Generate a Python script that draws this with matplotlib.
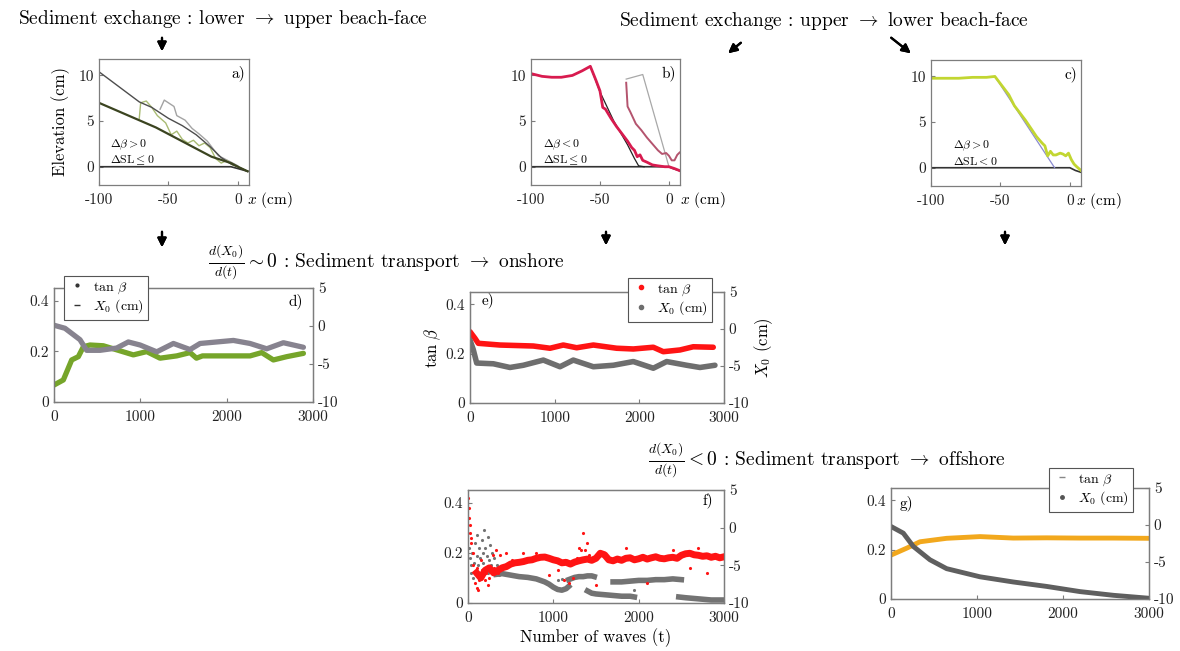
import matplotlib.pyplot as plt
from matplotlib.lines import Line2D

plt.rcParams['font.family'] = ['cmr10', 'DejaVu Serif']
plt.rcParams['mathtext.fontset'] = 'cm'
plt.rcParams['axes.unicode_minus'] = False
plt.rcParams['axes.formatter.use_mathtext'] = True

W, H = 1180, 651

# ---- beach profiles (x in cm, elevation in cm) ----
a_zero_x = [-100, -5, 0, 7]
a_zero_y = [0.0, 0.0, -0.2, -0.5]
a_init_x = [-100, -71, -62, -50, -40, -30, -20, -12, -5, 0, 7]
a_init_y = [10.4, 7.1, 6.5, 5.3, 4.5, 3.5, 2.2, 1.0, 0.3, 0.0, -0.5]
a_final_x = [-100, -59, -19, -5, 0, 7]
a_final_y = [7.0, 4.3, 1.1, 0.4, 0.0, -0.5]
a_mid1_x = [-71, -70, -66, -62, -58, -52, -48, -44, -40, -36, -32, -28, -24, -20, -16, -12, -8, -4, 0]
a_mid1_y = [5.3, 7.0, 7.2, 6.5, 5.6, 4.8, 3.5, 3.9, 3.0, 2.6, 2.9, 2.3, 2.6, 2.1, 0.9, 0.4, 0.7, 0.2, 0.0]
a_mid2_x = [-56, -53, -46, -44, -38, -33, -28, -22, -18, -14, -10, -5, 0]
a_mid2_y = [6.3, 7.3, 6.6, 5.6, 5.1, 4.2, 3.6, 2.8, 2.0, 1.2, 0.9, 0.5, 0.1]

b_zero_x = [-100, 0, 3, 9]
b_zero_y = [0.0, 0.0, -0.2, -0.5]
b_init_x = [-57, -50, -40, -30, -25, -22, -18]
b_init_y = [11.0, 8.2, 5.0, 2.4, 0.9, 0.1, 0.0]
b_red_x = [-100, -92, -85, -78, -70, -63, -57, -53, -50, -48, -46, -42, -38, -34, -30, -27,
           -25, -23, -21, -19, -16, -12, -8, -3, 0, 4, 9]
b_red_y = [10.2, 9.9, 9.8, 9.8, 10.0, 10.5, 11.0, 9.5, 8.3, 6.5, 6.3, 5.3, 4.4, 3.6, 2.8, 2.1,
           1.8, 1.1, 1.3, 0.7, 0.5, 0.2, 0.1, 0.0, 0.0, -0.2, -0.5]
b_mid_x = [-31, -30, -28, -24, -20, -16, -12, -8, -5, -2, 0, 2, 4, 6, 8, 9.5]
b_mid_y = [9.2, 6.6, 6.0, 4.7, 4.0, 3.2, 2.5, 1.8, 1.4, 1.5, 1.2, 0.7, 0.7, 1.3, 1.6, 1.5]
b_gray_x = [-31, -19, 0]
b_gray_y = [9.6, 10.1, 0.0]

c_zero_x = [-100, 0, 4, 8]
c_zero_y = [0.0, 0.0, -0.3, -0.5]
c_init_x = [-54, -11]
c_init_y = [10.0, 0.0]
c_green_x = [-100, -90, -80, -70, -60, -54, -50, -44, -40, -36, -32, -28, -24, -20, -18, -16,
             -14, -12, -10, -7, -5, -3, -1, 1, 3, 5, 8]
c_green_y = [9.8, 9.8, 9.8, 9.9, 9.9, 10.0, 9.2, 8.0, 6.8, 6.0, 5.2, 4.3, 3.4, 2.7, 2.4, 1.3,
             1.8, 1.4, 1.4, 1.6, 1.5, 1.3, 1.6, 0.9, 0.4, 0.1, -0.3]

# ---- time series (t in waves) ----
d_tan_t = [0, 108, 205, 282, 340, 417, 571, 726, 919, 1074, 1228, 1421, 1576, 1650, 1720,
           1885, 2271, 2406, 2541, 2696, 2889]
d_tan_v = [0.067, 0.087, 0.166, 0.179, 0.218, 0.225, 0.222, 0.206, 0.186, 0.199, 0.173, 0.182,
           0.195, 0.173, 0.182, 0.182, 0.182, 0.195, 0.166, 0.179, 0.192]
d_x0_t = [0, 127, 301, 378, 533, 726, 861, 997, 1190, 1383, 1576, 1692, 1885, 2078, 2271,
          2464, 2657, 2850, 2889]
d_x0_v = [0.1, -0.3, -1.8, -3.2, -3.2, -2.9, -2.1, -2.5, -3.4, -2.3, -3.1, -2.3, -2.1, -1.9,
          -2.3, -3.0, -2.2, -2.7, -2.8]

e_tan_t = [0, 59, 98, 354, 748, 945, 1102, 1260, 1457, 1732, 1929, 2165, 2283, 2480, 2637, 2873]
e_tan_v = [0.289, 0.262, 0.242, 0.235, 0.231, 0.222, 0.235, 0.224, 0.235, 0.222, 0.219, 0.226,
           0.208, 0.215, 0.228, 0.226]
e_x0_t = [0, 39, 79, 276, 472, 630, 866, 1063, 1220, 1457, 1693, 1929, 2165, 2323, 2559, 2716, 2893]
e_x0_v = [-1.5, -2.8, -4.6, -4.7, -5.2, -4.9, -4.2, -5.1, -4.2, -5.1, -4.9, -4.4, -5.3, -4.4,
          -4.9, -5.2, -4.9]

f_red_t = [100, 150, 200, 250, 300, 350, 400, 450, 500, 550, 600, 650, 700, 750, 800, 850, 900,
           950, 1000, 1050, 1100, 1150, 1200, 1250, 1300, 1350, 1400, 1450, 1500, 1550, 1600,
           1650, 1700, 1750, 1800, 1850, 1900, 1950, 2000, 2050, 2100, 2150, 2200, 2250, 2300,
           2350, 2400, 2450, 2500, 2550, 2600, 2650, 2700, 2750, 2800, 2850, 2900, 2950, 3000]
f_red_v = [0.12, 0.10, 0.13, 0.14, 0.12, 0.13, 0.14, 0.145, 0.155, 0.16, 0.162, 0.165, 0.17,
           0.172, 0.178, 0.182, 0.183, 0.178, 0.172, 0.168, 0.16, 0.162, 0.155, 0.163, 0.168,
           0.172, 0.175, 0.17, 0.178, 0.198, 0.192, 0.172, 0.168, 0.175, 0.17, 0.178, 0.18,
           0.172, 0.176, 0.182, 0.175, 0.18, 0.184, 0.178, 0.176, 0.18, 0.182, 0.178, 0.19,
           0.196, 0.198, 0.192, 0.19, 0.186, 0.188, 0.182, 0.186, 0.18, 0.184]
f_red_out_t = [5, 10, 15, 20, 25, 30, 40, 60, 80, 100, 120, 150, 180, 200, 230, 270, 290, 330,
               380, 450, 520, 640, 800, 950, 1050, 1120, 1180, 1230, 1280, 1300, 1320, 1350,
               1370, 1400, 1420, 1500, 1850, 2100, 2400, 2600, 2700, 2800,
               60, 90, 110, 130, 160, 210, 250, 310, 350]
f_red_out_v = [0.42, 0.38, 0.34, 0.31, 0.28, 0.26, 0.24, 0.20, 0.08, 0.06, 0.05, 0.17, 0.11,
               0.09, 0.07, 0.13, 0.19, 0.21, 0.19, 0.20, 0.17, 0.20, 0.20, 0.11, 0.13, 0.09,
               0.08, 0.10, 0.18, 0.22, 0.21, 0.28, 0.21, 0.24, 0.19, 0.07, 0.22, 0.08, 0.21,
               0.14, 0.22, 0.12,
               0.15, 0.12, 0.14, 0.09, 0.13, 0.12, 0.10, 0.14, 0.12]
f_gray_out_t = [10, 20, 30, 40, 50, 60, 70, 80, 90, 100, 110, 120, 130, 140, 150, 160, 170, 180,
                190, 200, 210, 220, 230, 240, 250, 260, 270, 280, 290, 300, 320, 340, 360, 380,
                1050, 1100, 1950]
f_gray_out_v = [-2.7, -4.0, -5.0, -6.0, -3.3, -6.7, -4.7, -2.0, -5.7, -3.7, -1.0, -5.0, -2.7,
                -4.0, -6.0, -1.7, -3.3, -4.7, -0.3, -2.7, -5.3, -3.7, -1.3, -6.0, -4.3, -2.3,
                -5.0, -3.3, -5.7, -4.0, -6.0, -5.0, -6.3, -5.7, -7.0, -6.8, -8.3]
f_seg_t = [
    [330, 400, 500, 600, 700, 800, 900, 950, 1000, 1050, 1100, 1150, 1180],
    [1180, 1250, 1300, 1350, 1400, 1450, 1480],
    [1400, 1450, 1500, 1600, 1700, 1800, 1900, 1950],
    [1700, 1800, 1900, 2000, 2100, 2200, 2300, 2400, 2500],
    [2470, 2550, 2650, 2750, 2850, 2950, 3000],
]
f_seg_v = [
    [-6.2, -6.1, -6.3, -6.5, -6.6, -6.8, -7.2, -7.5, -7.9, -8.2, -8.3, -8.1, -7.8],
    [-6.9, -6.6, -6.5, -6.5, -6.4, -6.4, -6.5],
    [-8.4, -8.7, -8.8, -8.9, -9.0, -9.1, -9.1, -9.2],
    [-7.2, -7.2, -7.1, -7.0, -7.0, -6.9, -6.9, -6.8, -6.9],
    [-9.2, -9.3, -9.4, -9.5, -9.6, -9.6, -9.6],
]

g_tan_t = [0, 182, 337, 647, 1035, 1422, 1810, 2198, 2585, 3000]
g_tan_v = [0.178, 0.206, 0.232, 0.246, 0.253, 0.247, 0.248, 0.247, 0.247, 0.246]
g_x0_t = [0, 143, 260, 453, 647, 1035, 1422, 1810, 2198, 2585, 3000]
g_x0_v = [-0.2, -1.1, -2.9, -4.7, -5.9, -7.0, -7.7, -8.3, -9.0, -9.5, -9.9]

SPINE = '#7d7d7d'


def frame(l, t, r, b):
    return [l / W, 1 - b / H, (r - l) / W, (b - t) / H]


def setup(ax):
    for s in ax.spines.values():
        s.set_color(SPINE)
        s.set_linewidth(0.9)
    ax.tick_params(direction='in', length=3, color=SPINE, labelsize=11, labelcolor='#222')
    ax.tick_params(axis='x', pad=6)


def profile_axes(fig, box, label, delta, delta_x, xlab_x):
    ax = fig.add_axes(frame(*box))
    setup(ax)
    ax.set_xlim(-100, 8)
    ax.set_ylim(-2, 11.8)
    ax.set_xticks([-100, -50, 0], ['-100', '-50', '0'])
    ax.set_yticks([0, 5, 10], ['0', '5', '10'])
    ax.text(0.975, 0.89, label, transform=ax.transAxes, ha='right', va='center', fontsize=11)
    ax.text(delta_x, 0.26, delta, transform=ax.transAxes, ha='left', va='center',
            fontsize=8.5, linespacing=1.2)
    ax.text(xlab_x, -0.12, r'$x$ (cm)', transform=ax.transAxes, ha='left', va='center',
            fontsize=11)
    return ax


def series_axes(fig, box, label, lx, ly, ha):
    ax = fig.add_axes(frame(*box))
    setup(ax)
    ax.set_xlim(0, 3000)
    ax.set_ylim(0, 0.45)
    ax.set_xticks([0, 1000, 2000, 3000], ['0', '1000', '2000', '3000'])
    ax.set_yticks([0, 0.2, 0.4], ['0', '0.2', '0.4'])
    ax2 = ax.twinx()
    setup(ax2)
    ax2.set_ylim(-10, 5)
    ax2.set_yticks([-10, -5, 0, 5], ['-10', '-5', '0', '5'])
    ax2.text(lx, ly, label, transform=ax.transAxes, ha=ha, va='center', fontsize=11)
    return ax, ax2


def add_legend(ax, handles, x, y):
    leg = ax.legend(handles, [r'$\tan\,\beta$', r'$X_0$ (cm)'], loc='upper left',
                    bbox_to_anchor=(x / W, 1 - y / H), bbox_transform=fig.transFigure,
                    fontsize=10, frameon=True, fancybox=False, framealpha=1,
                    edgecolor='#555555', borderpad=0.3, handlelength=1.2,
                    handletextpad=0.6, labelspacing=0.15, borderaxespad=0)
    leg.get_frame().set_linewidth(0.8)
    return leg


def arrow(fig, x0, y0, x1, y1):
    fig.add_artist(plt.annotate('', xy=(x1 / W, 1 - y1 / H), xytext=(x0 / W, 1 - y0 / H),
                                xycoords='figure fraction', textcoords='figure fraction',
                                arrowprops=dict(arrowstyle='-|>', color='black', lw=1.6,
                                                mutation_scale=13)))


fig = plt.figure(figsize=(W / 100, H / 100), dpi=100)

# panel a
ax = profile_axes(fig, (99, 59, 249, 185), 'a)', r'$\Delta\beta>0$' + '\n' + r'$\Delta\mathrm{SL}\leq 0$',
                  0.073, 0.985)
ax.plot(a_zero_x, a_zero_y, color='#333333', lw=1.2)
ax.plot(a_mid2_x, a_mid2_y, color='#a3a3a3', lw=1.0)
ax.plot(a_mid1_x, a_mid1_y, color='#a9bb73', lw=1.0)
ax.plot(a_init_x, a_init_y, color='#4d4d4d', lw=1.0)
ax.plot(a_final_x, a_final_y, color='#3b4420', lw=1.6)
ax.set_ylabel('Elevation (cm)', fontsize=12, labelpad=6)

# panel b
ax = profile_axes(fig, (531, 59, 680, 185), 'b)', r'$\Delta\beta<0$' + '\n' + r'$\Delta\mathrm{SL}\leq 0$',
                  0.08, 1.0)
ax.plot(b_zero_x, b_zero_y, color='#333333', lw=1.2)
ax.plot(b_gray_x, b_gray_y, color='#a8a8a8', lw=0.9)
ax.plot(b_mid_x, b_mid_y, color='#b4546e', lw=1.4)
ax.plot(b_init_x, b_init_y, color='#222222', lw=0.9)
ax.plot(b_red_x, b_red_y, color='#d81b4f', lw=2.0)

# panel c
ax = profile_axes(fig, (931, 60, 1081, 186), 'c)', r'$\Delta\beta>0$' + '\n' + r'$\Delta\mathrm{SL}<0$',
                  0.147, 0.965)
ax.plot(c_zero_x, c_zero_y, color='#333333', lw=1.2)
ax.plot(c_init_x, c_init_y, color='#8a8ad0', lw=0.9)
ax.plot(c_green_x, c_green_y, color='#c2d631', lw=2.0)

# panel d
ax, ax2 = series_axes(fig, (54, 288, 313, 402), 'd)', 0.961, 0.886, 'right')
ax.plot(d_tan_t, d_tan_v, color='#76a52a', lw=3.8, solid_capstyle='round')
ax2.plot(d_x0_t, d_x0_v, color='#87838f', lw=3.8, solid_capstyle='round')
add_legend(ax2, [Line2D([], [], ls='', marker='.', color='#333333', ms=4),
                 Line2D([], [], ls='', marker='_', color='#333333', ms=4)], 64, 276)

# panel e
ax, ax2 = series_axes(fig, (470, 292, 724, 403), 'e)', 0.047, 0.93, 'left')
ax.plot(e_tan_t, e_tan_v, color='#ff1414', lw=4, solid_capstyle='round')
ax2.plot(e_x0_t, e_x0_v, color='#6e6e6e', lw=4, solid_capstyle='round')
ax.set_ylabel(r'$\tan\,\beta$', fontsize=12, labelpad=2)
ax2.set_ylabel(r'$X_0$ (cm)', fontsize=12, rotation=90, labelpad=2)
add_legend(ax2, [Line2D([], [], ls='', marker='.', color='#ff1414', ms=6),
                 Line2D([], [], ls='', marker='.', color='#6e6e6e', ms=6)], 628, 278)

# panel f
ax, ax2 = series_axes(fig, (468, 490, 724, 603), 'f)', 0.957, 0.91, 'right')
ax.set_zorder(ax2.get_zorder() + 1)
ax.patch.set_visible(False)
for st, sv in zip(f_seg_t, f_seg_v):
    ax2.plot(st, sv, color='#737373', lw=4)
ax2.plot(f_gray_out_t, f_gray_out_v, ls='', marker='.', ms=2.5, color='#737373')
ax.plot(f_red_t, f_red_v, color='#ff1414', lw=5)
ax.plot(f_red_out_t, f_red_out_v, ls='', marker='.', ms=2.5, color='#ff1414')
ax.set_xlabel('Number of waves (t)', fontsize=12, labelpad=2)

# panel g
ax, ax2 = series_axes(fig, (891, 488, 1149, 599), 'g)', 0.035, 0.865, 'left')
ax.plot(g_tan_t, g_tan_v, color='#f2a81d', lw=3.5, solid_capstyle='round')
ax2.plot(g_x0_t, g_x0_v, color='#5f5f5f', lw=3.5, solid_capstyle='round')
add_legend(ax2, [Line2D([], [], ls='', marker='_', color='#888888', ms=4),
                 Line2D([], [], ls='', marker='.', color='#555555', ms=5)], 1049, 468)

# annotations
fig.text(223 / W, 1 - 19 / H, r'Sediment exchange : lower $\rightarrow$ upper beach-face',
         ha='center', va='center', fontsize=14)
fig.text(824 / W, 1 - 21 / H, r'Sediment exchange : upper $\rightarrow$ lower beach-face',
         ha='center', va='center', fontsize=14)
fig.text(386 / W, 1 - 262 / H,
         r'$\frac{d(X_0)}{d(t)}\sim 0$ : Sediment transport $\rightarrow$ onshore',
         ha='center', va='center', fontsize=14)
fig.text(827 / W, 1 - 460 / H,
         r'$\frac{d(X_0)}{d(t)}<0$ : Sediment transport $\rightarrow$ offshore',
         ha='center', va='center', fontsize=14)

arrow(fig, 162, 35, 162, 54)
arrow(fig, 743, 41, 726, 55)
arrow(fig, 889, 36, 913, 55)
arrow(fig, 162, 229, 162, 250)
arrow(fig, 606, 229, 606, 248)
arrow(fig, 1005, 229, 1005, 248)

fig.savefig('out.png', dpi=100)
